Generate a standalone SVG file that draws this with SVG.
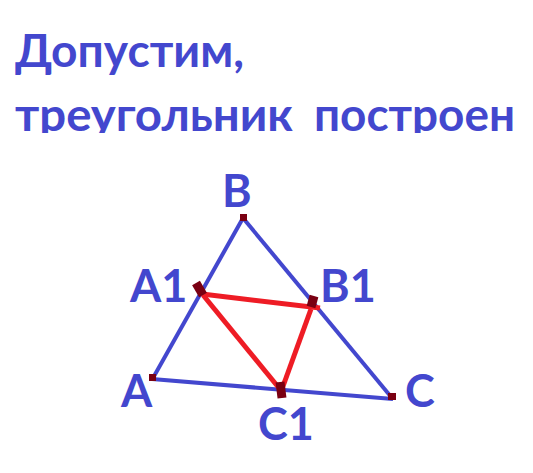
<svg xmlns="http://www.w3.org/2000/svg" width="533" height="473" viewBox="0 0 533 473">
<style>
.t{font-family:Lato,"Open Sans","Noto Sans",sans-serif;font-weight:bold;fill:#4347CE}
.title{font-size:46px}
.lbl{font-size:45px}
.blue{stroke:#4347CE;stroke-width:4;fill:none;stroke-linecap:butt}
.red{stroke:#EE1C25;stroke-width:5;fill:none}
.pt{fill:#7A0012}
.mk{stroke:#7A0012;stroke-width:9;stroke-linecap:butt}
</style>
<defs>
<clipPath id="tc"><rect x="0" y="0" width="533" height="133"/></clipPath>
</defs>
<rect width="533" height="473" fill="#fff"/>
<g id="title" clip-path="url(#tc)">
<text class="t title" x="15" y="67" textLength="229" lengthAdjust="spacingAndGlyphs">Допустим,</text>
<text class="t title" y="131"><tspan x="15" textLength="278" lengthAdjust="spacingAndGlyphs">треугольник</tspan> <tspan x="314" textLength="201" lengthAdjust="spacingAndGlyphs">построен</tspan></text>
</g>
<g id="connectors">
<line class="blue" x1="153" y1="378" x2="243" y2="218"/>
<line class="blue" x1="243" y1="218" x2="392" y2="398"/>
<line class="blue" x1="152" y1="379" x2="393" y2="399"/>
<line class="red" x1="202" y1="294" x2="320" y2="308"/>
<line class="red" x1="203" y1="295" x2="279" y2="388"/>
<line class="red" x1="311" y1="309" x2="282" y2="389"/>
</g>
<g id="B"><rect class="pt" x="240" y="214" width="7" height="7"/><text class="t lbl" x="222" y="207">B</text></g>
<g id="A"><rect class="pt" x="149" y="374" width="7" height="7"/><text class="t lbl" x="121" y="407">A</text></g>
<g id="C"><rect class="pt" x="388" y="393" width="8" height="7"/><text class="t lbl" x="405" y="407">C</text></g>
<g id="A1"><line class="mk" x1="196" y1="283" x2="203" y2="295"/><text class="t lbl" x="130" y="302">A1</text></g>
<g id="B1"><line class="mk" x1="314" y1="296" x2="311" y2="307"/><text class="t lbl" x="320" y="302">B1</text></g>
<g id="C1"><line class="mk" x1="280" y1="382" x2="282" y2="398"/><text class="t lbl" x="258" y="440">C1</text></g>
</svg>
